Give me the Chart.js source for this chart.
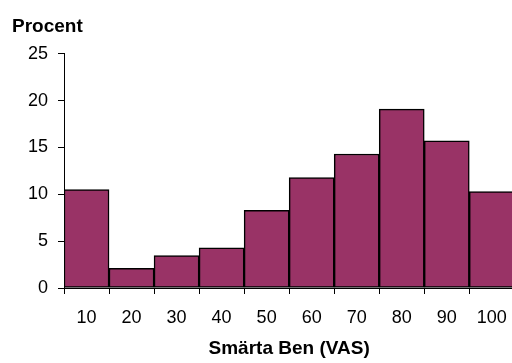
<!DOCTYPE html>
<html>
<head>
<meta charset="utf-8">
<script src="https://cdn.jsdelivr.net/npm/chart.js@4/dist/chart.umd.min.js"></script>
<style>
  html, body { margin: 0; padding: 0; background: #fff; overflow: hidden; }
  #wrap { position: relative; width: 520px; height: 363px; }
</style>
</head>
<body>
<div id="wrap"><canvas id="vasChart" width="520" height="363"></canvas></div>
<script>
var categories = ["10", "20", "30", "40", "50", "60", "70", "80", "90", "100"];
var procent = [10.5, 2.1, 3.45, 4.3, 8.3, 11.8, 14.3, 19.1, 15.7, 10.3];
var yTicks = [0, 5, 10, 15, 20, 25];

var ctx = document.getElementById("vasChart");
var vasChart = new Chart(ctx, {
    type: 'bar',
    data: {
        labels: categories,
        datasets: [{
            data: procent,
            backgroundColor: '#993366',
            borderColor: '#000000',
            borderWidth: 1.5,
            borderSkipped: false,
            barPercentage: 1.0,
            categoryPercentage: 1.0
        }]
    },
    options: {
        responsive: false,
        animation: false,
        layout: {
            padding: { left: 12, right: 4, top: 0, bottom: 0 }
        },
        plugins: {
            legend: { display: false },
            tooltip: { enabled: false },
            title: {
                display: true,
                text: 'Procent',
                align: 'start',
                color: '#000',
                font: { family: 'Liberation Sans, Arial, sans-serif', size: 19, weight: 'bold' },
                padding: { top: 15, bottom: 16 }
            }
        },
        scales: {
            x: {
                offset: true,
                grid: {
                    offset: true,
                    drawOnChartArea: false,
                    color: '#000',
                    tickLength: 6,
                    tickColor: '#000'
                },
                border: { color: '#000', width: 1 },
                ticks: {
                    color: '#000',
                    padding: 13,
                    maxRotation: 0,
                    font: { family: 'Liberation Sans, Arial, sans-serif', size: 18 }
                },
                title: {
                    display: true,
                    text: 'Smärta Ben (VAS)',
                    color: '#000',
                    font: { family: 'Liberation Sans, Arial, sans-serif', size: 19, weight: 'bold' },
                    padding: { top: 8, bottom: 3 }
                },
                afterFit: function (scale) { scale.height = 75; }
            },
            y: {
                min: 0,
                max: 25,
                afterBuildTicks: function (scale) {
                    scale.ticks = yTicks.map(function (v) { return { value: v }; });
                },
                grid: {
                    drawOnChartArea: false,
                    color: '#000',
                    tickLength: 6,
                    tickColor: '#000'
                },
                border: { color: '#000', width: 1 },
                ticks: {
                    color: '#000',
                    padding: 10,
                    font: { family: 'Liberation Sans, Arial, sans-serif', size: 18 }
                },
                afterFit: function (scale) { scale.width = 52; }
            }
        }
    }
});
</script>
</body>
</html>
